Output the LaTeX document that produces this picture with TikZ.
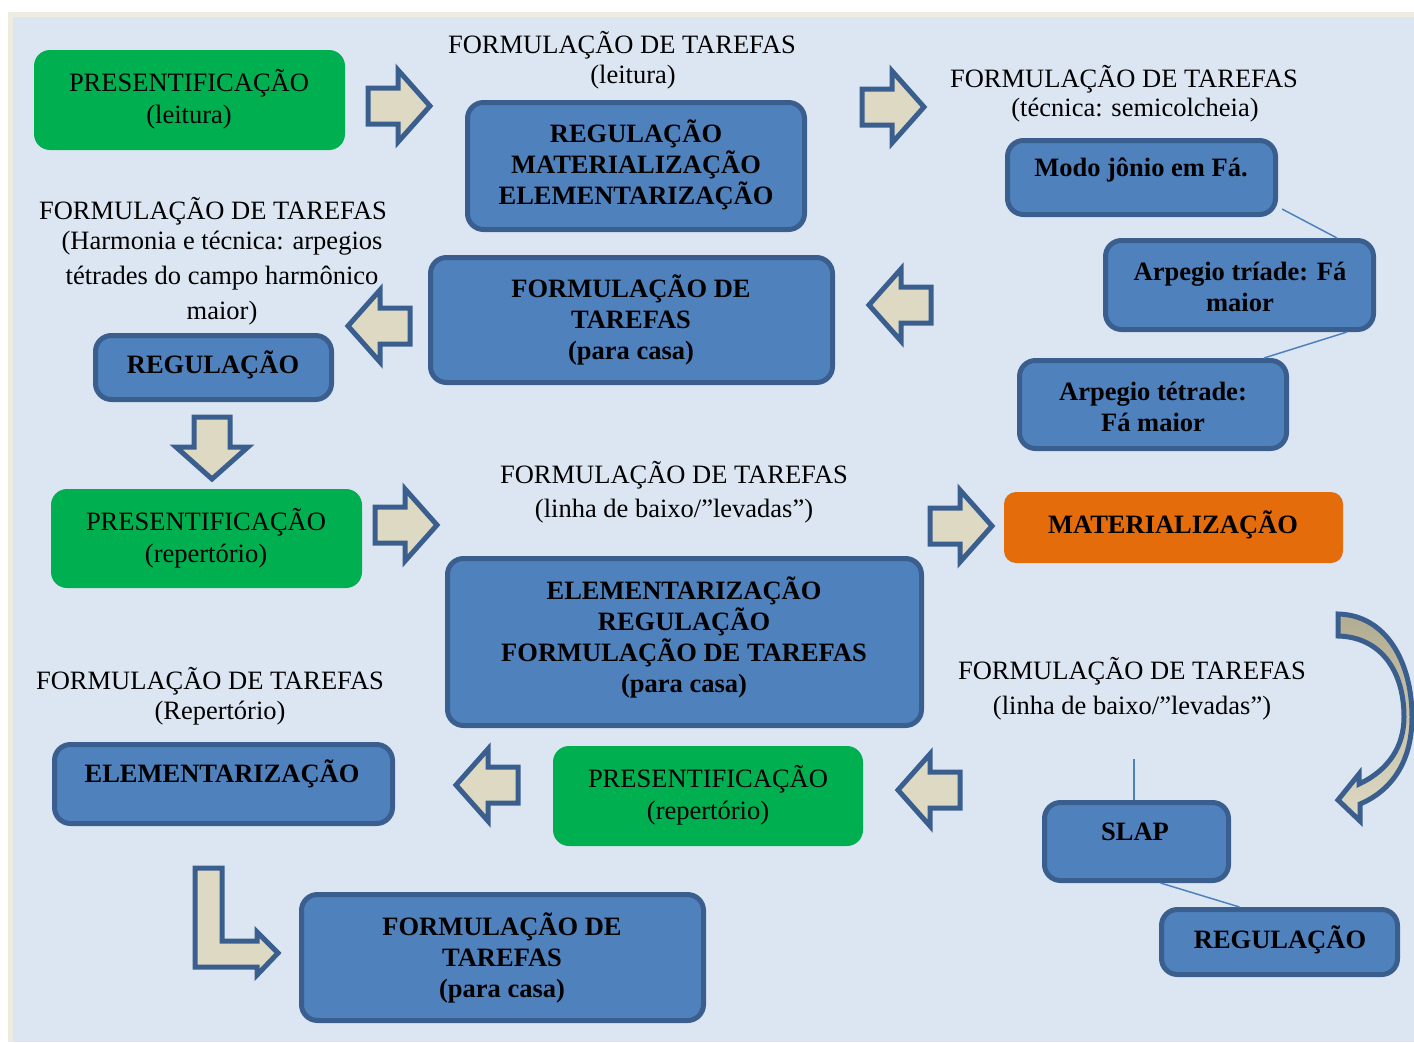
\documentclass[tikz,border=0pt]{standalone}
\usepackage{fontspec}
\setmainfont{Liberation Serif}
\usetikzlibrary{calc}
\definecolor{bgblue}{HTML}{DCE6F2}
\definecolor{frame}{HTML}{EEECE1}
\definecolor{boxblue}{HTML}{4F81BD}
\definecolor{boxedge}{HTML}{3A5F8E}
\definecolor{boxgreen}{HTML}{00B050}
\definecolor{boxorange}{HTML}{E46C0A}
\definecolor{arrfill}{HTML}{DDD9C3}
\definecolor{arrdark}{HTML}{B2AC91}
\tikzset{
 bluebox/.style={draw=boxedge, line width=5pt, fill=boxblue, rounded corners=16pt, inner sep=0pt},
 greenbox/.style={fill=boxgreen, rounded corners=16pt, inner sep=0pt},
 orangebox/.style={fill=boxorange, rounded corners=12pt, inner sep=0pt},
 txt/.style={font=\fontsize{26.5}{32}\selectfont, align=center, inner sep=0pt},
 ltxt/.style={font=\fontsize{26.5}{35}\selectfont, align=center, inner sep=0pt},
 btxt/.style={font=\fontsize{26.5}{31}\selectfont\bfseries, align=center, inner sep=0pt},
 blockarrow/.style={draw=boxedge, line width=5pt, fill=arrfill, line join=miter},
 link/.style={draw=boxblue, line width=1.5pt},
 pics/rarrow/.style={code={\path[blockarrow] (0,-18) -- (30,-18) -- (30,-36) -- (62,0) -- (30,36) -- (30,18) -- (0,18) -- cycle;}}
}
\begin{document}
\begin{tikzpicture}[x=1pt,y=-1pt]
\useasboundingbox (0,0) rectangle (1414,1042);
\fill[white] (0,0) rectangle (1414,1042);
\fill[frame] (8,12) rectangle (1414,1042);
\fill[bgblue] (13,17) rectangle (1414,1042);

% boxes
\node[greenbox, minimum width=311pt, minimum height=100pt] (g1) at (189.5,100) {};
\node[txt] (g1t) at (189,99) {PRESENTIFICAÇÃO\\(leitura)};

\node[bluebox, minimum width=337pt, minimum height=127pt] (b1) at (636,166) {};
\node[btxt] (b1t) at (636,165) {REGULAÇÃO\\MATERIALIZAÇÃO\\ELEMENTARIZAÇÃO};

\node[bluebox, minimum width=268pt, minimum height=74pt] (b2) at (1141.5,177.5) {};
\node[btxt] (b2t) at (1141,170) {Modo jônio em Fá.};

\node[bluebox, minimum width=268pt, minimum height=89pt] (b3) at (1239.5,285) {};
\node[btxt] (b3t) at (1240,287) {Arpegio tríade: Fá\\maior};

\node[bluebox, minimum width=267pt, minimum height=88pt] (b4) at (1153,404.5) {};
\node[btxt] (b4t) at (1153,406.5) {Arpegio tétrade:\\Fá maior};

\node[bluebox, minimum width=402pt, minimum height=125pt] (b5) at (631.5,320) {};
\node[btxt] (b5t) at (631,319.5) {FORMULAÇÃO DE\\TAREFAS\\(para casa)};

\node[bluebox, minimum width=236pt, minimum height=64pt] (b6) at (213.5,367.5) {};
\node[btxt] (b6t) at (213,365) {REGULAÇÃO};

\node[greenbox, minimum width=311pt, minimum height=99pt] (g2) at (206.5,538.5) {};
\node[txt] (g2t) at (206,538) {PRESENTIFICAÇÃO\\(repertório)};

\node[orangebox, minimum width=339pt, minimum height=71pt] (o1) at (1173.5,527.5) {};
\node[btxt] (o1t) at (1173,525) {MATERIALIZAÇÃO};

\node[bluebox, minimum width=474pt, minimum height=167pt] (b7) at (684.5,642) {};
\node[btxt] (b7t) at (684,637) {ELEMENTARIZAÇÃO\\REGULAÇÃO\\FORMULAÇÃO DE TAREFAS\\(para casa)};

\node[greenbox, minimum width=310pt, minimum height=100pt] (g3) at (708,796) {};
\node[txt] (g3t) at (708,795) {PRESENTIFICAÇÃO\\(repertório)};

\node[bluebox, minimum width=338pt, minimum height=79pt] (b8) at (223.5,784) {};
\node[btxt] (b8t) at (222,774) {ELEMENTARIZAÇÃO};

\node[bluebox, minimum width=184pt, minimum height=78pt] (b9) at (1136.5,841.5) {};
\node[btxt] (b9t) at (1135,832) {SLAP};

\node[bluebox, minimum width=236pt, minimum height=65pt] (b10) at (1279.5,942) {};
\node[btxt] (b10t) at (1280,940) {REGULAÇÃO};

\node[bluebox, minimum width=402pt, minimum height=126pt] (b11) at (502.5,957.5) {};
\node[btxt] (b11t) at (502,958) {FORMULAÇÃO DE\\TAREFAS\\(para casa)};

% free texts
\node[txt] (t1a) at (622,45) {FORMULAÇÃO DE TAREFAS};
\node[txt] (t1b) at (633,77) {(leitura)};
\node[txt] (t2a) at (1124,79) {FORMULAÇÃO DE TAREFAS};
\node[txt] (t2b) at (1135,110) {(técnica: semicolcheia)};
\node[txt] (t3a) at (213,211) {FORMULAÇÃO DE TAREFAS};
\node[ltxt] (t3b) at (222,278) {(Harmonia e técnica: arpegios\\tétrades do campo harmônico\\maior)};
\node[txt] (t4a) at (674,475) {FORMULAÇÃO DE TAREFAS};
\node[txt] (t4b) at (674,511) {(linha de baixo/”levadas”)};
\node[txt] (t5a) at (1132,671) {FORMULAÇÃO DE TAREFAS};
\node[txt] (t5b) at (1132,708) {(linha de baixo/”levadas”)};
\node[txt] (t6a) at (210,681) {FORMULAÇÃO DE TAREFAS};
\node[txt] (t6b) at (220,713) {(Repertório)};

% connectors
\draw[link] ($(b2.south east)+(4,-8)$) -- ($(b3.north east)+(-39,0)$);
\draw[link] ($(b3.south east)+(-29,0)$) -- ($(b4.north east)+(-25,0)$);
\coordinate (s0) at (1134,759);
\draw[link] (s0) -- (s0 |- b9.north);
\draw[link] ($(b9.south)+(24,0)$) -- ($(b10.north)+(-40,0)$);

% block arrows
\pic at (368,106) {rarrow};
\pic at (862,107) {rarrow};
\pic[rotate=180] at (931,305) {rarrow};
\pic[rotate=180] at (410,326) {rarrow};
\pic[rotate=-90] at (212,417) {rarrow};
\pic at (375,525) {rarrow};
\pic at (930,526) {rarrow};
\pic[rotate=180] at (960,790) {rarrow};
\pic[rotate=180] at (518,785) {rarrow};

% L-shaped arrow
\path[blockarrow] (195,868) -- (222,868) -- (222,941) -- (257,941) -- (257,932) -- (278,953) -- (257,975) -- (257,967) -- (195,967) -- cycle;

% curved arrow
\path[draw=boxedge, line width=5pt, top color=arrdark, bottom color=arrfill, line join=miter]
 (1338,614) .. controls (1386,615) and (1412,662) .. (1412,717)
 .. controls (1412,760) and (1393,790) .. (1360,804)
 -- (1360,821) -- (1338,800) -- (1359,774) -- (1359,784)
 .. controls (1389,770) and (1404,746) .. (1404,717)
 .. controls (1404,670) and (1380,637) .. (1338,636) -- cycle;
\end{tikzpicture}
\end{document}
